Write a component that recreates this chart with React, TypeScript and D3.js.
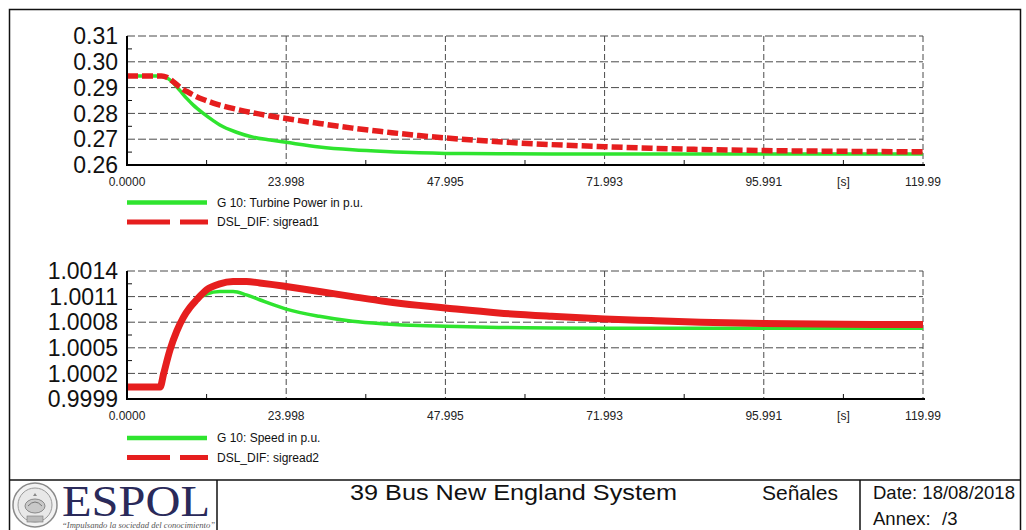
import React from "react";
import * as d3 from "d3";

// ---- data ----
const X_TICKS = [0, 23.998, 47.995, 71.993, 95.991, 119.99];
const X_TICK_LABELS = ["0.0000", "23.998", "47.995", "71.993", "95.991", "119.99"];
const X_MINOR = [11.999, 35.997, 59.994, 83.992, 107.99];
const X_UNIT = "[s]";

const P_TICKS = [0.26, 0.27, 0.28, 0.29, 0.3, 0.31];
const P_TICK_LABELS = ["0.26", "0.27", "0.28", "0.29", "0.30", "0.31"];
const S_TICKS = [0.9999, 1.0002, 1.0005, 1.0008, 1.0011, 1.0014];
const S_TICK_LABELS = ["0.9999", "1.0002", "1.0005", "1.0008", "1.0011", "1.0014"];

const T_POWER = [0, 5.2, 6, 7, 8, 9, 10, 11.5, 13, 14, 16.5, 19, 21.6, 24, 29, 34, 39, 44, 48, 56, 64, 72, 79, 86.5, 96, 108, 119.99];
const POWER_G10 = [0.2945, 0.2945, 0.2938, 0.2918, 0.2888, 0.2858, 0.2832, 0.28, 0.2772, 0.2755, 0.2727, 0.2708, 0.2697, 0.2688, 0.267, 0.2659, 0.2652, 0.2647, 0.2645, 0.2644, 0.2643, 0.2643, 0.2643, 0.2643, 0.2643, 0.2643, 0.2643];
const POWER_DSL = [0.2945, 0.2945, 0.294, 0.2922, 0.2901, 0.2885, 0.2871, 0.2854, 0.284, 0.2832, 0.2816, 0.2802, 0.279, 0.278, 0.2761, 0.2743, 0.2728, 0.2714, 0.2705, 0.269, 0.2679, 0.2671, 0.2665, 0.266, 0.2656, 0.2653, 0.2651];

const T_SPEED = [0, 5.0, 5.5, 6.5, 7.5, 8.5, 9.5, 10.5, 12, 14, 16, 18, 20, 22, 24, 29, 34, 39, 44, 48, 56, 64, 72, 79, 86.5, 96, 108, 119.99];
const SPEED_G10 = [1.00004, 1.00004, 1.00019, 1.00048, 1.000695, 1.000857, 1.000974, 1.001063, 1.00113, 1.00116, 1.00116, 1.00112, 1.001063, 1.001005, 1.000954, 1.000869, 1.000811, 1.00078, 1.00076, 1.000752, 1.000738, 1.000733, 1.00073, 1.00073, 1.00073, 1.00073, 1.00073, 1.00073];
const SPEED_DSL = [1.00004, 1.00004, 1.00019, 1.00048, 1.000695, 1.000857, 1.000974, 1.001063, 1.00118, 1.00125, 1.001276, 1.001278, 1.00126, 1.00124, 1.001218, 1.00116, 1.0011, 1.001043, 1.000997, 1.000966, 1.000908, 1.000869, 1.000838, 1.000819, 1.0008, 1.000784, 1.000776, 1.000772];

const LEGEND_TOP = ["G 10: Turbine Power in p.u.", "DSL_DIF: sigread1"];
const LEGEND_BOTTOM = ["G 10: Speed in p.u.", "DSL_DIF: sigread2"];

const GREEN = "#2fe42f";
const RED = "#e61e1e";
const FONT = "Arial, 'Liberation Sans', sans-serif";

type PlotProps = {
  top: number;
  bottom: number;
  yTicks: number[];
  yLabels: string[];
  t: number[];
  green: number[];
  red: number[];
  redDash: string | undefined;
  redWidth: number;
  legend: string[];
  legendY: number;
};

const X0 = 127;
const X1 = 923;

function Plot(p: PlotProps) {
  const x = d3.scaleLinear().domain([0, 119.99]).range([X0, X1]);
  const y = d3
    .scaleLinear()
    .domain([p.yTicks[0], p.yTicks[p.yTicks.length - 1]])
    .range([p.bottom, p.top]);
  const line = d3
    .line<number>()
    .x((_, i) => x(p.t[i]))
    .curve(d3.curveMonotoneX);
  const gPath = line.y((v) => y(v))(p.green) || "";
  const rPath = line.y((v) => y(v))(p.red) || "";
  const yMinor = p.yTicks.slice(0, -1).map((v, i) => (v + p.yTicks[i + 1]) / 2);
  const gridColor = "#4a4a4a";
  return (
    <g>
      {p.yTicks.slice(1).map((v, i) => (
        <line key={"h" + i} x1={X0} x2={X1} y1={y(v)} y2={y(v)} stroke={gridColor} strokeWidth={1} strokeDasharray="8 3" />
      ))}
      {X_TICKS.slice(1).map((v, i) => (
        <line key={"v" + i} x1={x(v)} x2={x(v)} y1={p.top} y2={p.bottom} stroke={gridColor} strokeWidth={1} strokeDasharray="6 3" />
      ))}
      {X_MINOR.map((v, i) => (
        <line key={"mx" + i} x1={x(v)} x2={x(v)} y1={p.bottom} y2={p.bottom - 5} stroke="#111" strokeWidth={1} />
      ))}
      {yMinor.map((v, i) => (
        <line key={"my" + i} x1={X0} x2={X0 + 5} y1={y(v)} y2={y(v)} stroke="#111" strokeWidth={1} />
      ))}
      <path d={gPath} fill="none" stroke={GREEN} strokeWidth={3.5} />
      <path d={rPath} fill="none" stroke={RED} strokeWidth={p.redWidth} strokeDasharray={p.redDash} />
      <line x1={X0} x2={X0} y1={p.top} y2={p.bottom + 1} stroke="#000" strokeWidth={2} />
      <line x1={X0} x2={X1 + 2} y1={p.bottom} y2={p.bottom} stroke="#000" strokeWidth={2} />
      {p.yTicks.map((v, i) => (
        <text key={"yl" + i} x={118} y={y(v)} dy="0.36em" textAnchor="end" fontSize={23} fontFamily={FONT} fill="#111">
          {p.yLabels[i]}
        </text>
      ))}
      {X_TICKS.map((v, i) => (
        <text key={"xl" + i} x={x(v)} y={p.bottom + 17} dy="0.36em" textAnchor="middle" fontSize={12} fontFamily={FONT} fill="#222">
          {X_TICK_LABELS[i]}
        </text>
      ))}
      <text x={x(X_MINOR[4])} y={p.bottom + 17} dy="0.36em" textAnchor="middle" fontSize={12} fontFamily={FONT} fill="#222">
        {X_UNIT}
      </text>
      <line x1={127} x2={207} y1={p.legendY} y2={p.legendY} stroke={GREEN} strokeWidth={4.5} />
      <text x={217} y={p.legendY} dy="0.36em" fontSize={12} fontFamily={FONT} fill="#111">
        {p.legend[0]}
      </text>
      <line x1={127} x2={208} y1={p.legendY + 19.5} y2={p.legendY + 19.5} stroke={RED} strokeWidth={5} strokeDasharray="43 10" />
      <text x={217} y={p.legendY + 19.5} dy="0.36em" fontSize={12} fontFamily={FONT} fill="#111">
        {p.legend[1]}
      </text>
    </g>
  );
}

function Seal() {
  return (
    <g>
      <circle cx={35} cy={505} r={22} fill="#f2f2f2" stroke="#8a8a8a" strokeWidth={1.5} />
      <circle cx={35} cy={505} r={17} fill="#e8e8e8" stroke="#9a9a9a" strokeWidth={1} />
      <ellipse cx={35} cy={506} rx={10} ry={7} fill="#c8c8c8" stroke="#888" strokeWidth={1} />
      <path d="M28 506 Q35 498 42 506" fill="none" stroke="#777" strokeWidth={1} />
      <path d="M33 496 l2 -3 l2 3 z" fill="#888" />
      <rect x={27} y={516} width={16} height={6} fill="#bbb" stroke="#777" strokeWidth={0.6} />
    </g>
  );
}

export default function App() {
  return (
    <svg
      width={1026}
      height={530}
      style={{ position: "absolute", left: 0, top: 0, display: "block", background: "#fff" }}
    >
      <rect x={0} y={0} width={1026} height={530} fill="#fff" />
      <path d="M9.5 536 V9.5 H1020.5 V536" fill="none" stroke="#111" strokeWidth={1.5} />
      <line x1={9.5} x2={1020.5} y1={480} y2={480} stroke="#111" strokeWidth={1.5} />
      <line x1={217} x2={217} y1={480} y2={530} stroke="#111" strokeWidth={1.5} />
      <line x1={860} x2={860} y1={480} y2={530} stroke="#111" strokeWidth={1.5} />

      <Plot
        top={36}
        bottom={165}
        yTicks={P_TICKS}
        yLabels={P_TICK_LABELS}
        t={T_POWER}
        green={POWER_G10}
        red={POWER_DSL}
        redDash="11 4"
        redWidth={5.5}
        legend={LEGEND_TOP}
        legendY={202.5}
      />
      <Plot
        top={271}
        bottom={399}
        yTicks={S_TICKS}
        yLabels={S_TICK_LABELS}
        t={T_SPEED}
        green={SPEED_G10}
        red={SPEED_DSL}
        redDash={undefined}
        redWidth={7}
        legend={LEGEND_BOTTOM}
        legendY={438}
      />

      <Seal />
      <text x={62} y={516} fontSize={45} fontFamily="'Liberation Serif', 'DejaVu Serif', serif" fill="#2a2a5a" textLength={148} lengthAdjust="spacingAndGlyphs">
        ESPOL
      </text>
      <text x={62} y={527.5} fontSize={8} fontStyle="italic" fontFamily="'Liberation Serif', serif" fill="#555" textLength={153} lengthAdjust="spacingAndGlyphs">
        “Impulsando la sociedad del conocimiento”
      </text>
      <text x={350} y={500} fontSize={22} fontFamily={FONT} fill="#111" textLength={327} lengthAdjust="spacingAndGlyphs">
        39 Bus New England System
      </text>
      <text x={762} y={500} fontSize={21} fontFamily={FONT} fill="#111">
        Señales
      </text>
      <text x={873} y={499} fontSize={18.5} fontFamily={FONT} fill="#111">
        Date: 18/08/2018
      </text>
      <text x={873} y={525} fontSize={18.5} fontFamily={FONT} fill="#111">
        Annex:
      </text>
      <text x={942} y={525} fontSize={18.5} fontFamily={FONT} fill="#111">
        /3
      </text>
    </svg>
  );
}
